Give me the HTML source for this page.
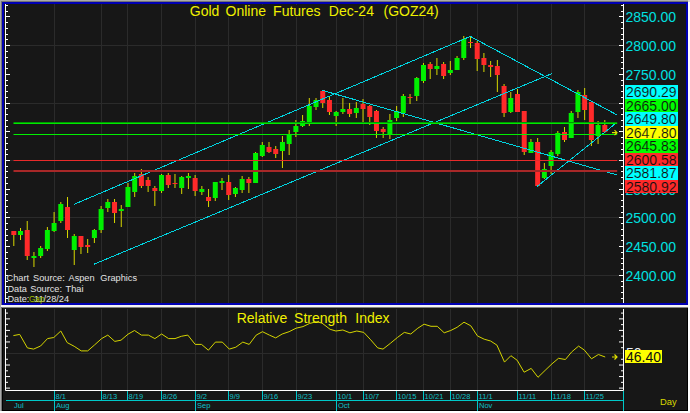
<!DOCTYPE html><html><head><meta charset="utf-8"><style>html,body{margin:0;padding:0;width:690px;height:413px;overflow:hidden;background:#171717}</style></head><body><svg width="690" height="413" viewBox="0 0 690 413" style="display:block">
<rect x="0" y="0" width="690" height="413" fill="#aaaaaa"/>
<rect x="688" y="0" width="2" height="413" fill="#ffffff"/>
<rect x="0" y="411" width="690" height="2" fill="#ffffff"/>
<rect x="1" y="1" width="687" height="1" fill="#747474"/>
<rect x="1" y="1" width="1" height="410" fill="#747474"/>
<rect x="688" y="0" width="2" height="2" fill="#d8d8d8"/>
<rect x="2" y="2" width="686" height="303" fill="#0000b4"/>
<rect x="4" y="4" width="682" height="299" fill="#171717"/>
<rect x="1" y="305" width="687" height="2" fill="#f4f4f4"/>
<rect x="2" y="307" width="686" height="1" fill="#808080"/>
<rect x="2" y="308" width="686" height="103" fill="#000000"/>
<rect x="3" y="308" width="684" height="102" fill="#171717"/>
<path d="M54.5 4V303M54.5 309V390M101.5 4V303M101.5 309V390M127.5 4V303M127.5 309V390M161.5 4V303M161.5 309V390M195.5 4V303M195.5 309V390M228.5 4V303M228.5 309V390M262.5 4V303M262.5 309V390M296.5 4V303M296.5 309V390M336.5 4V303M336.5 309V390M363.5 4V303M363.5 309V390M396.5 4V303M396.5 309V390M423.5 4V303M423.5 309V390M450.5 4V303M450.5 309V390M477.5 4V303M477.5 309V390M517.5 4V303M517.5 309V390M551.5 4V303M551.5 309V390M584.5 4V303M584.5 309V390M6 45.50H623M6 103.50H623M6 160.50H623M6 217.50H623M6 275.50H623" stroke="#2b2b2b" stroke-width="1" fill="none"/>
<path d="M5.5 4V303M623.5 4V303" stroke="#ffffff" stroke-width="1"/>
<path d="M6 298.50h2M623 298.50h-2M6 292.50h2M623 292.50h-2M6 286.50h2M623 286.50h-2M6 281.50h2M623 281.50h-2M6 275.50h4M623 275.50h-4M6 269.50h2M623 269.50h-2M6 263.50h2M623 263.50h-2M6 258.50h2M623 258.50h-2M6 252.50h2M623 252.50h-2M6 246.50h4M623 246.50h-4M6 240.50h2M623 240.50h-2M6 235.50h2M623 235.50h-2M6 229.50h2M623 229.50h-2M6 223.50h2M623 223.50h-2M6 217.50h4M623 217.50h-4M6 212.50h2M623 212.50h-2M6 206.50h2M623 206.50h-2M6 200.50h2M623 200.50h-2M6 194.50h2M623 194.50h-2M6 189.50h4M623 189.50h-4M6 183.50h2M623 183.50h-2M6 177.50h2M623 177.50h-2M6 171.50h2M623 171.50h-2M6 166.50h2M623 166.50h-2M6 160.50h4M623 160.50h-4M6 154.50h2M623 154.50h-2M6 149.50h2M623 149.50h-2M6 143.50h2M623 143.50h-2M6 137.50h2M623 137.50h-2M6 131.50h4M623 131.50h-4M6 126.50h2M623 126.50h-2M6 120.50h2M623 120.50h-2M6 114.50h2M623 114.50h-2M6 108.50h2M623 108.50h-2M6 103.50h4M623 103.50h-4M6 97.50h2M623 97.50h-2M6 91.50h2M623 91.50h-2M6 85.50h2M623 85.50h-2M6 80.50h2M623 80.50h-2M6 74.50h4M623 74.50h-4M6 68.50h2M623 68.50h-2M6 62.50h2M623 62.50h-2M6 57.50h2M623 57.50h-2M6 51.50h2M623 51.50h-2M6 45.50h4M623 45.50h-4M6 39.50h2M623 39.50h-2M6 34.50h2M623 34.50h-2M6 28.50h2M623 28.50h-2M6 22.50h2M623 22.50h-2M6 16.50h4M623 16.50h-4M6 11.50h2M623 11.50h-2M6 5.50h2M623 5.50h-2" stroke="#ffffff" stroke-width="1"/>
<path d="M13.80 231V246M20.52 228V240M27.23 221V260M33.95 252V267M40.66 246V258M47.38 227V251M54.10 212V232M60.81 202V223M67.53 197V238M74.24 234V265M80.96 236V254M87.68 239V253M94.39 229V243M101.11 206V233M107.82 199V212M114.54 199V223M121.26 205V227M127.97 183V207M134.69 173V197M141.40 169V188M148.12 177V192M154.84 186V206M161.55 174V193M168.27 173V188M174.98 174V188M181.70 176V194M188.42 173V189M195.13 175V196M201.85 186V195M208.56 189V207M215.28 182V201M222.00 178V190M228.71 175V200M235.43 187V197M242.14 176V193M248.86 177V193M255.58 152V183M262.29 142V157M269.01 142V153M275.72 146V158M282.44 136V168M289.16 130V155M295.87 120V137M302.59 115V127M309.30 98V126M316.02 98V110M322.74 90V108M329.45 97V115M336.17 111V126M342.88 98V114M349.60 103V117M356.32 102V118M363.03 99V122M369.75 105V125M376.46 110V138M383.18 127V138M389.90 114V139M396.61 106V121M403.33 94V117M410.04 94V104M416.76 77V101M423.48 63V83M430.19 62V79M436.91 58V75M443.62 62V79M450.34 61V75M457.06 56V70M463.77 36V60M470.49 37V48M477.20 41V71M483.92 53V72M490.64 61V77M497.35 60V92M504.07 84V117M510.78 92V113M517.50 89V112M524.22 111V155M530.93 139V153M537.65 138V187M544.36 163V179M551.08 150V174M557.80 131V156M564.51 127V142M571.23 111V138M577.94 90V118M584.66 88V120M591.38 102V146M598.09 121V144M604.81 120V133" stroke="#d8d800" stroke-width="1"/>
<path d="M18.02 231h5v4h-5zM31.45 256h5v2h-5zM38.16 248h5v8h-5zM44.88 230h5v19h-5zM51.60 223h5v8h-5zM58.31 204h5v17h-5zM71.74 236h5v14h-5zM91.89 230h5v8h-5zM98.61 209h5v21h-5zM105.32 202h5v6h-5zM118.76 209h5v2h-5zM125.47 187h5v20h-5zM132.19 176h5v16h-5zM159.05 175h5v16h-5zM179.20 177h5v11h-5zM185.92 176h5v2h-5zM199.35 189h5v3h-5zM212.78 182h5v16h-5zM219.50 181h5v2h-5zM232.93 188h5v6h-5zM239.64 179h5v11h-5zM253.08 153h5v30h-5zM259.79 145h5v11h-5zM279.94 142h5v9h-5zM286.66 134h5v10h-5zM293.37 126h5v6h-5zM300.09 121h5v5h-5zM306.80 106h5v17h-5zM313.52 100h5v7h-5zM333.67 112h5v4h-5zM340.38 109h5v3h-5zM353.82 108h5v5h-5zM387.40 120h5v15h-5zM394.11 111h5v7h-5zM400.83 96h5v17h-5zM414.26 78h5v18h-5zM420.98 65h5v16h-5zM434.41 66h5v3h-5zM447.84 70h5v3h-5zM454.56 58h5v12h-5zM461.27 39h5v19h-5zM508.28 98h5v14h-5zM528.43 142h5v11h-5zM541.86 169h5v9h-5zM548.58 152h5v14h-5zM555.30 133h5v21h-5zM568.73 113h5v25h-5zM575.44 92h5v20h-5zM595.59 125h5v11h-5z" fill="#00f000"/>
<path d="M11.30 231h5v4h-5zM24.73 230h5v26h-5zM65.03 207h5v23h-5zM78.46 236h5v11h-5zM85.18 245h5v2h-5zM112.04 202h5v11h-5zM138.90 174h5v12h-5zM145.62 180h5v6h-5zM152.34 188h5v3h-5zM165.77 175h5v10h-5zM172.48 183h5v1h-5zM192.63 178h5v13h-5zM206.06 197h5v4h-5zM226.21 182h5v13h-5zM246.36 179h5v4h-5zM266.51 147h5v5h-5zM273.22 149h5v5h-5zM320.24 91h5v12h-5zM326.95 100h5v12h-5zM347.10 109h5v5h-5zM360.53 104h5v5h-5zM367.25 106h5v11h-5zM373.96 111h5v20h-5zM380.68 129h5v3h-5zM407.54 97h5v1h-5zM427.69 64h5v5h-5zM441.12 64h5v12h-5zM467.99 42h5v1h-5zM474.70 43h5v16h-5zM481.42 58h5v7h-5zM488.14 65h5v2h-5zM494.85 66h5v9h-5zM501.57 86h5v27h-5zM515.00 94h5v18h-5zM521.72 111h5v41h-5zM535.15 142h5v44h-5zM562.01 132h5v8h-5zM582.16 95h5v15h-5zM588.88 102h5v38h-5zM602.31 125h5v7h-5z" fill="#ff2a2a"/>
<path d="M74.1 204.3L470.1 36.5M93.8 264.3L552 73.6M321.8 90.2L617.2 175M470.1 36.3L617.2 115M537 186.5L617.2 122.2" stroke="#00d4e0" stroke-width="1" fill="none" shape-rendering="crispEdges"/>
<rect x="13.5" y="122" width="603.7" height="1" fill="#009a00"/>
<rect x="13.5" y="123" width="603.7" height="1" fill="#00e800"/>
<rect x="13.5" y="134" width="603.7" height="1" fill="#00f000"/>
<rect x="13.5" y="160" width="603.7" height="1" fill="#e82a2a"/>
<rect x="13.5" y="170" width="603.7" height="2" fill="#a82828"/>
<path d="M612 132.69h5M614.5 130.19l2.5 2.5l-2.5 2.5" stroke="#e0e000" stroke-width="1.2" fill="none"/>
<g font-family="Liberation Sans, sans-serif" font-size="14" fill="#00e0e0"><text x="625.5" y="280.79">2400.00</text><text x="625.5" y="252.08">2450.00</text><text x="625.5" y="223.37">2500.00</text><text x="625.5" y="194.66">2550.00</text><text x="625.5" y="165.95">2600.00</text><text x="625.5" y="137.24">2650.00</text><text x="625.5" y="108.53">2700.00</text><text x="625.5" y="79.82">2750.00</text><text x="625.5" y="51.11">2800.00</text><text x="625.5" y="22.40">2850.00</text></g>
<g font-family="Liberation Sans, sans-serif" font-size="14" shape-rendering="crispEdges"><rect x="625" y="85.0" width="53" height="13.55" fill="#00ffff"/><text x="626" y="97.0" fill="#101010" stroke="#00ffff" stroke-width="0.12">2690.29</text><rect x="625" y="98.55" width="53" height="13.55" fill="#00ff00"/><text x="626" y="110.55" fill="#101010" stroke="#00ff00" stroke-width="0.12">2665.00</text><rect x="625" y="112.1" width="53" height="13.55" fill="#00ffff"/><text x="626" y="124.1" fill="#101010" stroke="#00ffff" stroke-width="0.12">2649.80</text><rect x="625" y="125.65" width="53" height="13.55" fill="#ffff00"/><text x="626" y="137.65" fill="#101010" stroke="#ffff00" stroke-width="0.12">2647.80</text><rect x="625" y="139.2" width="53" height="13.55" fill="#00ff00"/><text x="626" y="151.2" fill="#101010" stroke="#00ff00" stroke-width="0.12">2645.83</text><rect x="625" y="152.75" width="53" height="13.55" fill="#ff2a2a"/><text x="626" y="164.75" fill="#101010" stroke="#ff2a2a" stroke-width="0.12">2600.58</text><rect x="625" y="166.3" width="53" height="13.55" fill="#00ffff"/><text x="626" y="178.3" fill="#101010" stroke="#00ffff" stroke-width="0.12">2581.87</text><rect x="625" y="179.85000000000002" width="53" height="13.55" fill="#ff2a2a"/><text x="626" y="191.85000000000002" fill="#101010" stroke="#ff2a2a" stroke-width="0.12">2580.92</text></g>
<rect x="189" y="5" width="250" height="12" fill="#171717"/>
<g font-family="Liberation Sans, sans-serif" font-size="14" fill="#f0f000"><text x="189.8" y="16">Gold</text><text x="225.5" y="16">Online</text><text x="273.1" y="16">Futures</text><text x="328.8" y="16">Dec-24</text><text x="383.5" y="16">(GOZ24)</text></g>
<rect x="8" y="273" width="130" height="30" fill="#171717"/>
<g font-family="Liberation Sans, sans-serif" font-size="9.2" fill="#e4e4e4"><text x="6.6" y="281">Chart</text><text x="33.1" y="281">Source:</text><text x="68.5" y="281">Aspen</text><text x="100.3" y="281">Graphics</text><text x="7.4" y="291.5">Data</text><text x="30.3" y="291.5">Source:</text><text x="65.6" y="291.5">Thai</text><text x="7.4" y="301.8">Date:</text><text x="34.0" y="301.8">11/28/24</text></g>
<text x="29" y="301.8" font-family="Liberation Sans, sans-serif" font-size="8.2" fill="#a0c000">Gap</text>
<path d="M5.5 309V390.5H623.5V309" stroke="#ffffff" stroke-width="1" fill="none"/>
<path d="M6 313.10h2M623 313.10h-2M6 318.87h4M623 318.87h-4M6 324.64h2M623 324.64h-2M6 330.41h4M623 330.41h-4M6 336.18h2M623 336.18h-2M6 341.95h4M623 341.95h-4M6 347.72h2M623 347.72h-2M6 353.49h4M623 353.49h-4M6 359.26h2M623 359.26h-2M6 365.03h4M623 365.03h-4M6 370.80h2M623 370.80h-2M6 376.57h4M623 376.57h-4M6 382.34h2M623 382.34h-2M6 388.11h4M623 388.11h-4" stroke="#ffffff" stroke-width="1"/>
<path d="M6 353.5H623" stroke="#2b2b2b" stroke-width="1"/>
<polyline points="13.4,335.6 19.7,334.4 27.4,347.9 33.6,349.1 40.6,346 47.5,338.6 53.8,337.5 60.8,331 67.2,342.6 74.2,346.3 81.2,350.9 87.7,350.9 94.6,344.9 101.6,338.6 107.8,335.1 114.8,341.4 121,340.2 128,334.2 134.5,330.5 141.4,335.1 148.4,335.1 154.9,338.6 161.6,334 168.6,338.6 175,338.6 181.3,336.3 187.8,335.1 195.2,344.4 201.5,344.4 208.4,350.2 215.4,342.1 222.3,342.1 229.3,349.1 235.8,347.2 242.8,342.1 249.2,344.4 256.2,335.1 262.5,331.7 269.4,335.1 275.7,337.9 282.2,334 289.1,331.7 296.1,328.2 303,326.6 309.3,323.6 316.2,321.7 322,323.1 330.1,329.3 335.9,331 342.9,330 349.9,332.8 356.8,331 363.8,332.4 370.7,339.8 377.7,347.9 383,349.1 390.4,343.3 397.4,337.5 404.3,332.4 410.8,334 417.8,328.2 424.1,324.2 431,326.3 437.3,326.3 444.2,332.8 450.7,330.5 457.1,327.3 464,322.2 470.8,325.8 477.4,335.9 484.2,339.2 490.6,341 496.9,345.1 504.5,362.1 510.9,355.7 517.2,360.3 524.1,372.2 531.2,368.4 538,377.3 545.1,370.4 552,363.8 558.5,358.3 565.4,359.5 571.7,351.9 578.6,346.1 584.4,350.1 591.5,358.8 598.4,354.5 605.2,357" stroke="#d4d400" stroke-width="1" fill="none" stroke-linejoin="round"/>
<g font-family="Liberation Sans, sans-serif" font-size="14" fill="#f0f000"><text x="236.7" y="322.6">Relative</text><text x="294.1" y="322.6">Strength</text><text x="355.3" y="322.6">Index</text></g>
<text x="626" y="358" font-family="Liberation Sans, sans-serif" font-size="14" fill="#e8f0f8">50</text>
<rect x="625" y="350" width="37" height="13" fill="#ffff00"/>
<text x="626" y="362" font-family="Liberation Sans, sans-serif" font-size="14" fill="#101010">46.40</text>
<path d="M612 357h5M614.5 354.5l2.5 2.5l-2.5 2.5" stroke="#e0e000" stroke-width="1.2" fill="none"/>
<path d="M54.5 391V400M101.5 391V400M127.5 391V400M161.5 391V400M195.5 391V400M228.5 391V400M262.5 391V400M296.5 391V400M336.5 391V400M363.5 391V400M396.5 391V400M423.5 391V400M450.5 391V400M477.5 391V400M517.5 391V400M551.5 391V400M584.5 391V400M54.5 391V411M195.5 391V411M336.5 391V411M477.5 391V411M623.5 391V411M6 400.5H623" stroke="#00c8c8" stroke-width="1"/>
<g font-family="Liberation Sans, sans-serif" font-size="7.5" fill="#10c0c8"><text x="55.6" y="399.4">8/1</text><text x="102.6" y="399.4">8/13</text><text x="128.6" y="399.4">8/19</text><text x="162.6" y="399.4">8/26</text><text x="196.6" y="399.4">9/2</text><text x="229.6" y="399.4">9/9</text><text x="263.6" y="399.4">9/16</text><text x="297.6" y="399.4">9/23</text><text x="337.6" y="399.4">10/1</text><text x="364.6" y="399.4">10/7</text><text x="397.6" y="399.4">10/15</text><text x="424.6" y="399.4">10/21</text><text x="451.6" y="399.4">10/28</text><text x="478.6" y="399.4">11/1</text><text x="518.6" y="399.4">11/11</text><text x="552.6" y="399.4">11/18</text><text x="585.6" y="399.4">11/25</text><text x="14" y="408.3">Jul</text><text x="56" y="408.3">Aug</text><text x="197" y="408.3">Sep</text><text x="338" y="408.3">Oct</text><text x="479" y="408.3">Nov</text></g>
<text x="660" y="404.5" font-family="Liberation Sans, sans-serif" font-size="9.4" fill="#d8d800">Day</text>
</svg></body></html>
